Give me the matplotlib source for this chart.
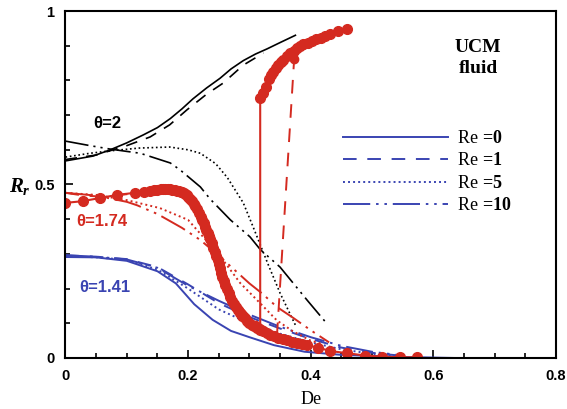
import matplotlib
matplotlib.use('Agg')
from matplotlib import pyplot as plt
from matplotlib.ticker import MultipleLocator

plt.rcParams['mathtext.fontset'] = 'custom'
plt.rcParams['mathtext.rm'] = 'Liberation Serif'
plt.rcParams['mathtext.bf'] = 'Liberation Serif:bold'
plt.rcParams['mathtext.it'] = 'Liberation Serif:italic:bold'

RED = '#d42a20'
BLUE = '#3a44b2'

# theta = 2 (black)
t2_re0_x = [0, 0.045, 0.073, 0.1, 0.127, 0.15, 0.171, 0.19, 0.208, 0.23, 0.252, 0.27, 0.29, 0.31, 0.329, 0.35, 0.375]
t2_re0_y = [0.568, 0.582, 0.6, 0.62, 0.643, 0.664, 0.69, 0.718, 0.747, 0.778, 0.806, 0.833, 0.857, 0.876, 0.891, 0.909, 0.93]
t2_re1_x = [0, 0.05, 0.1, 0.138, 0.17, 0.198, 0.23, 0.257, 0.29, 0.323]
t2_re1_y = [0.572, 0.585, 0.612, 0.637, 0.672, 0.715, 0.76, 0.792, 0.844, 0.879]
t2_re5_x = [0, 0.04, 0.073, 0.12, 0.17, 0.2, 0.22, 0.245, 0.264, 0.29, 0.306, 0.318, 0.33, 0.35, 0.375]
t2_re5_y = [0.579, 0.59, 0.597, 0.605, 0.608, 0.6, 0.59, 0.56, 0.52, 0.447, 0.378, 0.325, 0.272, 0.187, 0.095]
t2_re10_x = [0, 0.04, 0.073, 0.122, 0.171, 0.187, 0.22, 0.236, 0.269, 0.301, 0.318, 0.35, 0.394, 0.424]
t2_re10_y = [0.625, 0.612, 0.602, 0.59, 0.562, 0.542, 0.493, 0.458, 0.398, 0.349, 0.312, 0.262, 0.167, 0.104]

# theta = 1.74 (red), Re=0 lower and upper branches
t174_re0_x = [0, 0.028, 0.056, 0.084, 0.113, 0.128, 0.138, 0.145, 0.15, 0.155, 0.159, 0.163, 0.167, 0.17, 0.174,
              0.178, 0.182, 0.185, 0.188, 0.19, 0.193, 0.195, 0.198, 0.2, 0.203, 0.206, 0.209, 0.212, 0.215,
              0.218, 0.221, 0.223, 0.226, 0.228, 0.23, 0.232, 0.234, 0.236, 0.239, 0.241, 0.244, 0.246, 0.248,
              0.25, 0.252, 0.254, 0.256, 0.258, 0.261, 0.263, 0.266, 0.269, 0.272, 0.275, 0.278, 0.281, 0.284,
              0.288, 0.292, 0.296, 0.3, 0.304, 0.308, 0.312, 0.317, 0.322, 0.328, 0.334, 0.34, 0.347, 0.354,
              0.361, 0.369, 0.377, 0.385, 0.394, 0.412, 0.432, 0.459, 0.489, 0.517, 0.546, 0.574]
t174_re0_y = [0.447, 0.452, 0.461, 0.47, 0.476, 0.479, 0.482, 0.484, 0.485, 0.486, 0.487, 0.487, 0.487, 0.486,
              0.485, 0.484, 0.482, 0.481, 0.479, 0.477, 0.475, 0.472, 0.469, 0.465, 0.459, 0.452, 0.445, 0.437,
              0.428, 0.418, 0.407, 0.398, 0.388, 0.378, 0.369, 0.36, 0.351, 0.342, 0.33, 0.318, 0.305, 0.293,
              0.282, 0.27, 0.258, 0.246, 0.234, 0.222, 0.21, 0.198, 0.186, 0.175, 0.165, 0.155, 0.146, 0.138,
              0.13, 0.122, 0.114, 0.107, 0.101, 0.096, 0.091, 0.087, 0.082, 0.077, 0.072, 0.067, 0.063, 0.059,
              0.055, 0.051, 0.047, 0.044, 0.04, 0.037, 0.03, 0.02, 0.014, 0.007, 0.004, 0.002, 0.002]
t174_re0_up_x = [0.3176, 0.3176, 0.322, 0.327, 0.332, 0.336, 0.339, 0.343, 0.347, 0.351, 0.355, 0.361, 0.367,
                 0.372, 0.378, 0.383, 0.388, 0.395, 0.402, 0.409, 0.416, 0.424, 0.432, 0.445, 0.459]
t174_re0_up_y = [0.083, 0.749, 0.765, 0.781, 0.804, 0.815, 0.824, 0.835, 0.844, 0.852, 0.859, 0.869, 0.879,
                 0.886, 0.893, 0.899, 0.905, 0.909, 0.913, 0.918, 0.922, 0.928, 0.934, 0.941, 0.948]
t174_re1_x = [0, 0.03, 0.06, 0.1, 0.14, 0.17, 0.19, 0.2, 0.215, 0.23, 0.245, 0.26, 0.28, 0.3, 0.32, 0.345,
              0.373, 0.39, 0.41, 0.435, 0.459]
t174_re1_y = [0.476, 0.468, 0.465, 0.472, 0.482, 0.484, 0.475, 0.45, 0.42, 0.37, 0.3, 0.23, 0.16, 0.12, 0.095, 0.066,
              0.862, 0.89, 0.915, 0.935, 0.948]
t174_re5_x = [0, 0.05, 0.1, 0.154, 0.2, 0.23, 0.26, 0.285, 0.318, 0.345, 0.37, 0.4, 0.42]
t174_re5_y = [0.476, 0.47, 0.455, 0.432, 0.398, 0.338, 0.275, 0.216, 0.157, 0.108, 0.078, 0.05, 0.04]
t174_re10_x = [0, 0.05, 0.1, 0.117, 0.15, 0.19, 0.22, 0.25, 0.27, 0.3, 0.32, 0.345, 0.372, 0.4, 0.43]
t174_re10_y = [0.476, 0.468, 0.45, 0.44, 0.415, 0.375, 0.34, 0.295, 0.263, 0.215, 0.187, 0.147, 0.115, 0.08, 0.045]

# theta = 1.41 (blue)
t141_re0_x = [0, 0.05, 0.1, 0.15, 0.18, 0.21, 0.24, 0.27, 0.3, 0.34, 0.39, 0.45, 0.55, 0.636]
t141_re0_y = [0.291, 0.29, 0.28, 0.25, 0.215, 0.155, 0.11, 0.078, 0.06, 0.037, 0.018, 0.009, 0.003, 0.0]
t141_re1_x = [0, 0.05, 0.1, 0.15, 0.2, 0.25, 0.3, 0.35, 0.4, 0.45, 0.5, 0.55]
t141_re1_y = [0.296, 0.292, 0.285, 0.262, 0.212, 0.158, 0.118, 0.085, 0.055, 0.03, 0.015, 0.006]
t141_re5_x = [0, 0.05, 0.1, 0.15, 0.2, 0.25, 0.3, 0.35, 0.4, 0.45, 0.5, 0.55]
t141_re5_y = [0.294, 0.29, 0.283, 0.255, 0.2, 0.14, 0.1, 0.07, 0.045, 0.025, 0.012, 0.005]
t141_re10_x = [0, 0.05, 0.1, 0.15, 0.2, 0.25, 0.3, 0.35, 0.4, 0.45, 0.5, 0.55]
t141_re10_y = [0.296, 0.292, 0.284, 0.26, 0.208, 0.165, 0.125, 0.09, 0.06, 0.035, 0.018, 0.007]

re_labels = ['0', '1', '5', '10']
x_ticks = [0, 0.2, 0.4, 0.6, 0.8]
x_ticklabels = ['0', '0.2', '0.4', '0.6', '0.8']
y_ticks = [0, 0.5, 1]
y_ticklabels = ['0', '0.5', '1']

# line styles for Re = 0, 1, 5, 10
styles = [
    dict(linestyle='-'),
    dict(dashes=(7, 5.5)),
    dict(dashes=(1, 1.6)),
    dict(dashes=(14, 3, 1.3, 3, 1.3, 3)),
]

fig = plt.figure(figsize=(5.67, 4.09), dpi=100)
ax = fig.add_axes([0.1155, 0.1247, 0.865, 0.8484])

black_sets = [(t2_re0_x, t2_re0_y), (t2_re1_x, t2_re1_y), (t2_re5_x, t2_re5_y), (t2_re10_x, t2_re10_y)]
for (xs, ys), st in zip(black_sets, styles):
    ax.plot(xs, ys, color='black', lw=1.2, **st)

blue_sets = [(t141_re0_x, t141_re0_y), (t141_re1_x, t141_re1_y), (t141_re5_x, t141_re5_y), (t141_re10_x, t141_re10_y)]
for (xs, ys), st in zip(blue_sets, styles):
    ax.plot(xs, ys, color=BLUE, lw=1.4, **st)

ax.plot(t174_re5_x, t174_re5_y, color=RED, lw=1.4, **styles[2])
ax.plot(t174_re10_x, t174_re10_y, color=RED, lw=1.4, **styles[3])
ax.plot(t174_re1_x, t174_re1_y, color=RED, lw=1.4, **styles[1])
ax.plot([t174_re1_x[16]], [t174_re1_y[16]], 'o', color=RED, ms=6)
ax.plot(t174_re0_x, t174_re0_y, color=RED, lw=1.5, marker='o', ms=7)
ax.plot(t174_re0_up_x, t174_re0_up_y, color=RED, lw=1.5, marker='o', ms=7,
        markevery=list(range(1, len(t174_re0_up_x))))

# legend handles
handles = []
for lab, st in zip(re_labels, styles):
    h, = ax.plot([], [], color=BLUE, lw=1.4, **st)
    h.set_label(r'Re$\,\mathbf{=}\!\mathbf{' + lab + '}$')
    handles.append(h)
ax.legend(handles=handles, loc='upper left', bbox_to_anchor=(0.5665, 0.657), frameon=False,
          prop={'family': 'Liberation Serif', 'size': 13}, handlelength=5.8, handletextpad=0.5,
          labelspacing=0.3, borderaxespad=0, borderpad=0)

ax.text(0.672, 0.896, 'UCM', fontsize=14, fontweight='bold', family='Liberation Serif', ha='center', va='center')
ax.text(0.674, 0.833, 'fluid', fontsize=14, fontweight='bold', family='Liberation Serif', ha='center', va='center')

ax.text(0.045, 0.677, 'θ=2', fontsize=12, fontweight='bold', family='Liberation Sans', color='black', va='center')
ax.text(0.018, 0.392, 'θ=1.74', fontsize=12, fontweight='bold', family='Liberation Sans', color=RED, va='center')
ax.text(0.023, 0.202, 'θ=1.41', fontsize=12, fontweight='bold', family='Liberation Sans', color=BLUE, va='center')

ax.set_xlim(0, 0.8)
ax.set_ylim(0, 1)
ax.set_xticks(x_ticks)
ax.set_xticklabels(x_ticklabels, fontweight='bold', family='Liberation Sans', fontsize=10.5)
ax.set_yticks(y_ticks)
ax.set_yticklabels(y_ticklabels, fontweight='bold', family='Liberation Sans', fontsize=10.5)
ax.xaxis.set_minor_locator(MultipleLocator(0.05))
ax.yaxis.set_minor_locator(MultipleLocator(0.1))
ax.tick_params(which='both', direction='in', top=False, right=False, width=1.2)
ax.tick_params(which='major', length=6, pad=8)
ax.tick_params(which='minor', length=3.5)
for s in ax.spines.values():
    s.set_linewidth(1.5)

ax.set_xlabel('De', fontsize=13, family='Liberation Serif', labelpad=6)
fig.text(0.035, 0.545, r'$R_r$', fontsize=15, ha='center', va='center')

fig.savefig('out.png', dpi=100)
